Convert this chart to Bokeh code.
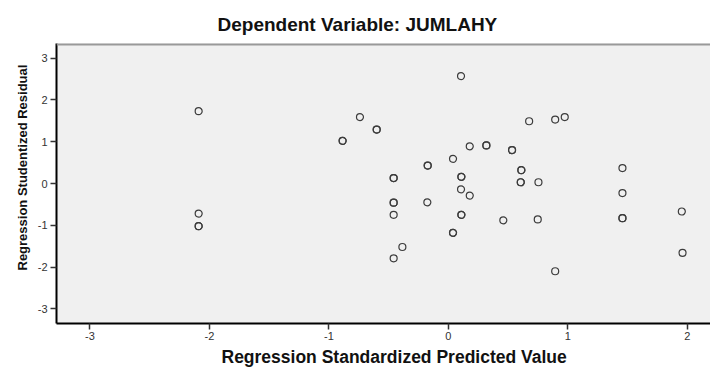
from bokeh.plotting import figure
from bokeh.models import FixedTicker, Range1d, ColumnDataSource, Title, Span
from bokeh.embed import file_html
from bokeh.resources import INLINE

# Regression standardized predicted value (x) and studentized residual (y)
pred = [-2.09, -2.09, -2.09, -2.09, -0.885, -0.885, -0.74, -0.60, -0.60,
        0.106, 0.676, 0.894, 0.974, 0.179, 0.318, 0.318, 0.533, 0.533,
        0.039, -0.173, -0.173, 0.611, 0.611, 1.457, -0.458, -0.458,
        0.109, 0.109, 0.606, 0.606, 0.754, 0.106, 0.179, 1.457,
        -0.458, -0.458, -0.176, -0.458, 0.109, 0.109, 0.46, 0.748,
        1.457, 1.457, 1.954, 0.039, 0.039, -0.385, -0.458, 1.96, 0.894]
resid = [1.73, -0.72, -1.02, -1.02, 1.02, 1.02, 1.59, 1.29, 1.29,
         2.57, 1.49, 1.53, 1.59, 0.89, 0.91, 0.91, 0.80, 0.80,
         0.59, 0.43, 0.43, 0.32, 0.32, 0.37, 0.13, 0.13,
         0.16, 0.16, 0.03, 0.03, 0.03, -0.14, -0.29, -0.23,
         -0.46, -0.46, -0.45, -0.75, -0.75, -0.75, -0.88, -0.86,
         -0.83, -0.83, -0.67, -1.18, -1.18, -1.52, -1.79, -1.66, -2.10]

x_ticks = [-3, -2, -1, 0, 1, 2]
x_tick_labels = ["-3", "-2", "-1", "0", "1", "2"]
y_ticks = [-3, -2, -1, 0, 1, 2, 3]
y_tick_labels = ["-3", "-2", "-1", "0", "1", "2", "3"]

title_text = "Dependent Variable: JUMLAHY"
x_label = "Regression Standardized Predicted Value"
y_label = "Regression Studentized Residual"

y_lo, y_hi = -3.35, 3.35

src = ColumnDataSource(dict(x=pred, y=resid))

p = figure(width=710, height=370, output_backend="svg", toolbar_location=None,
           x_range=Range1d(-3.28, 2.194), y_range=Range1d(y_lo, y_hi),
           min_border_left=56, min_border_right=0, min_border_top=43,
           min_border_bottom=47)

p.background_fill_color = "#f0f0f0"
p.border_fill_color = "white"
p.outline_line_color = None
p.xgrid.visible = False
p.ygrid.visible = False

# grey top edge of the plot frame
p.add_layout(Span(location=y_hi, dimension="width", line_color="#999999",
                  line_width=4))

p.scatter("x", "y", source=src, marker="circle", size=7,
          fill_color=None, line_color="#3c3c3c", line_width=1.2)

for ax in (p.xaxis[0], p.yaxis[0]):
    ax.axis_line_color = "#000000"
    ax.axis_line_width = 2
    ax.major_tick_line_color = "#333333"
    ax.major_tick_line_width = 1.5
    ax.major_tick_out = 6
    ax.major_tick_in = 0
    ax.minor_tick_line_color = None
    ax.major_label_text_font = "Liberation Sans"
    ax.major_label_text_font_size = "11px"
    ax.major_label_text_color = "#333333"

p.xaxis.ticker = FixedTicker(ticks=x_ticks)
p.yaxis.ticker = FixedTicker(ticks=y_ticks)
p.xaxis.major_label_overrides = dict(zip(x_ticks, x_tick_labels))
p.yaxis.major_label_overrides = dict(zip(y_ticks, y_tick_labels))
p.xaxis.major_label_standoff = 2
p.yaxis.major_label_standoff = 3

common = dict(text_font="Liberation Sans", text_font_style="bold",
              text_color="#111111", align="left")
p.add_layout(Title(text=title_text, text_font_size="19px", offset=161,
                   standoff=17, **common), "above")
p.add_layout(Title(text=x_label, text_font_size="17.5px", offset=165,
                   standoff=4, **common), "below")
p.add_layout(Title(text=y_label, text_font_size="13px", offset=53,
                   standoff=9, **common), "left")

open("out.html", "w").write(file_html(p, INLINE))
